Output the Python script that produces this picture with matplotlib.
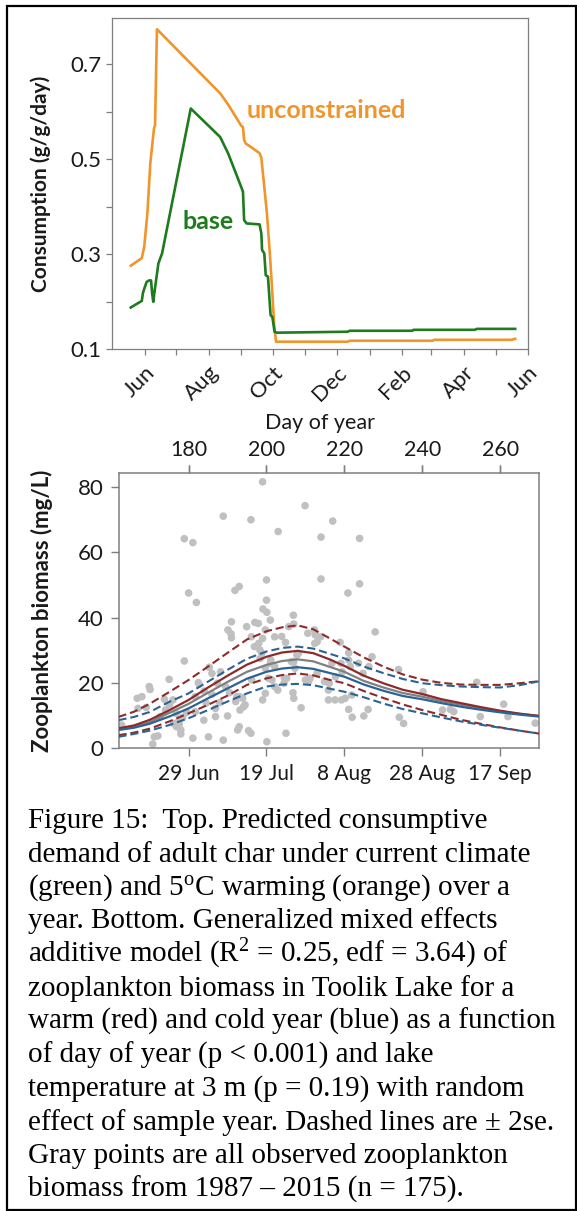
import matplotlib
matplotlib.use('Agg')
import matplotlib.pyplot as plt
from matplotlib.ticker import FixedLocator, NullFormatter, FixedFormatter
from matplotlib.patches import Rectangle

W, H, DPI = 577, 1211, 100

# ---------------- Top panel data (day counted from 1 Jan of first year) ----------------
x_major = [152, 213, 274, 335, 397, 456, 517]
x_major_labels = ['Jun', 'Aug', 'Oct', 'Dec', 'Feb', 'Apr', 'Jun']
x_minor = [182, 244, 305, 366, 425, 486]
y_major = [0.1, 0.3, 0.5, 0.7]
y_minor = [0.2, 0.4, 0.6]

unc_day = [138.7, 149.2, 151.5, 154.5, 157.3, 160.8, 161.8, 162.9, 163.6, 223.8, 231.5,
           238.5, 243.8, 245.5, 246.6, 248.3, 252.5, 261.3, 263.0, 264.8, 268.3, 271.1,
           273.5, 275.3, 277.0, 345.3, 347.0, 425.9, 427.7, 501.2, 504.7]
unc_val = [0.276, 0.292, 0.316, 0.386, 0.492, 0.565, 0.572, 0.695, 0.774, 0.639, 0.615,
           0.590, 0.571, 0.568, 0.541, 0.533, 0.527, 0.513, 0.503, 0.464, 0.387, 0.302,
           0.218, 0.148, 0.116, 0.116, 0.118, 0.118, 0.120, 0.120, 0.122]

base_day = [138.7, 149.2, 150.2, 151.6, 153.8, 156.2, 158.0, 159.0, 160.1, 161.5, 165.0,
            168.5, 195.8, 223.8, 231.5, 243.8, 245.5, 246.6, 249.0, 261.3, 263.0, 263.7,
            265.8, 267.2, 269.3, 271.8, 273.5, 275.6, 277.7, 345.3, 347.0, 406.6, 408.0,
            466.2, 468.0, 504.7]
base_val = [0.188, 0.202, 0.218, 0.228, 0.242, 0.245, 0.245, 0.218, 0.200, 0.225, 0.281,
            0.302, 0.607, 0.547, 0.512, 0.442, 0.432, 0.372, 0.365, 0.363, 0.344, 0.309,
            0.302, 0.256, 0.253, 0.172, 0.168, 0.137, 0.135, 0.137, 0.139, 0.139, 0.141,
            0.141, 0.143, 0.143]

# ---------------- Bottom panel data ----------------
doy_ticks = [180, 200, 220, 240, 260]
date_labels = ['29 Jun', '19 Jul', '8 Aug', '28 Aug', '17 Sep']
b_yticks = [0, 20, 40, 60, 80]

fit_day = [162, 166, 170, 175, 180, 185, 190, 195, 200, 204, 208, 212, 216, 220, 225,
           230, 235, 240, 245, 250, 255, 260, 265, 270]
warm_fit = [6.1, 7.0, 8.7, 11.6, 14.8, 18.6, 22.2, 25.6, 28.0, 29.3, 29.8, 29.1, 27.3, 25.2,
            22.2, 19.9, 17.9, 16.6, 15.0, 13.8, 12.6, 11.5, 10.6, 9.9]
mean_fit = [5.8, 6.6, 8.0, 10.8, 13.6, 17.0, 20.3, 23.4, 25.5, 26.7, 27.2, 26.6, 25.0, 23.4,
            20.6, 18.6, 16.9, 15.8, 14.4, 13.3, 12.3, 11.3, 10.5, 9.9]
cold_fit = [5.6, 6.3, 7.5, 9.7, 12.2, 15.3, 18.3, 21.3, 23.4, 24.4, 24.8, 24.3, 23.1, 21.9,
            19.5, 17.6, 16.0, 15.0, 13.8, 12.7, 11.8, 11.0, 10.3, 9.7]
warm_hi = [9.6, 11.2, 13.6, 17.2, 20.9, 25.0, 29.2, 33.3, 35.8, 37.0, 37.6, 36.4, 33.8, 31.1,
           27.8, 25.0, 22.6, 21.0, 20.0, 19.5, 19.4, 19.4, 19.9, 20.5]
warm_lo = [4.0, 4.8, 6.0, 8.2, 10.7, 13.3, 16.1, 19.4, 21.4, 22.4, 22.9, 22.3, 21.0, 19.9,
           17.5, 15.4, 13.4, 11.7, 10.2, 8.7, 7.5, 6.4, 5.4, 4.5]
cold_hi = [8.6, 9.6, 11.1, 14.2, 16.8, 20.4, 24.0, 27.4, 29.6, 30.7, 31.1, 30.5, 29.0, 27.5,
           25.0, 23.0, 21.2, 19.9, 19.3, 18.9, 18.7, 18.6, 19.3, 20.5]
cold_lo = [3.5, 4.4, 5.4, 7.1, 9.2, 11.7, 14.3, 16.8, 18.9, 19.5, 19.7, 19.3, 18.3, 17.3,
           15.6, 13.7, 12.0, 10.7, 9.4, 8.2, 7.2, 6.3, 5.4, 4.5]

obs_day = [199.0, 188.9, 196.0, 203.0, 209.9, 217.0, 214.0, 223.9, 178.9, 181.1, 180.0, 182.0,
           191.9, 193.0, 200.0, 214.0, 223.9, 220.9, 200.0, 199.1, 200.1, 201.0, 206.9, 227.9,
           191.0, 190.1, 190.9, 191.0, 194.9, 197.0, 197.9, 196.1, 198.0, 199.7, 199.0, 203.9,
           204.9, 202.1, 205.7, 207.0, 210.6, 212.3, 212.5, 213.0, 212.4, 213.9, 218.9, 221.1,
           198.3, 198.8, 196.9, 178.9, 201.1, 202.1, 206.4, 207.3, 208.2, 207.8, 207.0, 201.0,
           198.4, 199.7, 221.1, 216.8, 219.1, 223.6, 227.1, 221.5, 226.3, 233.9,
           175.0, 182.5, 182.7, 185.3, 186.0, 188.2, 187.4, 189.5, 201.4, 205.2, 210.0, 210.8,
           211.2, 213.0, 214.9, 217.7, 219.4, 224.8, 200.5, 204.6, 216.1, 204.5, 254.0, 196.2,
           166.8, 168.0, 169.9, 170.1, 169.1, 167.0, 173.8, 176.0, 175.1, 174.1, 176.8, 172.7,
           181.7, 181.7, 184.5, 186.9, 186.9, 190.0, 183.9, 192.1, 192.4, 193.1, 193.9, 193.2,
           194.1, 194.5, 199.0, 199.7, 202.9, 202.1, 206.8, 207.0, 208.9, 215.9, 217.6, 215.9,
           219.3, 220.2, 221.9, 221.1, 222.0, 225.0, 226.1, 234.1, 235.2, 240.2, 247.2, 245.2,
           248.1, 254.9, 260.9, 262.0, 269.0, 186.0, 188.0, 190.5, 184.0, 179.5, 178.5,
           162.8, 170.8, 171.2, 172.1, 176.1, 176.9, 178.0, 178.0, 177.6, 177.4, 181.1, 185.1,
           188.9, 192.6, 193.0, 195.4, 196.0, 200.1, 205.0]
obs_val = [81.5, 71.0, 69.9, 66.3, 74.2, 69.5, 64.6, 64.2, 64.1, 62.9, 47.5, 44.6,
           48.3, 49.5, 51.5, 51.8, 50.3, 47.5, 45.3, 42.6, 41.6, 39.2, 40.7, 35.6,
           38.7, 36.2, 35.0, 33.8, 37.2, 38.5, 38.2, 34.1, 32.1, 36.2, 33.6, 34.2,
           32.4, 34.1, 37.2, 38.0, 35.2, 36.2, 34.7, 32.6, 32.1, 34.1, 32.4, 29.2,
           30.1, 29.1, 31.1, 26.7, 27.0, 25.0, 26.5, 24.5, 29.0, 28.5, 26.5, 26.0,
           27.5, 24.5, 27.0, 26.0, 26.0, 26.0, 28.0, 25.0, 25.0, 24.1,
           21.1, 20.1, 19.6, 24.8, 22.9, 23.4, 19.9, 18.9, 20.9, 21.4, 20.9, 20.4,
           21.4, 22.9, 20.4, 21.9, 23.4, 22.9, 21.4, 21.4, 19.9, 19.9, 20.2, 20.9,
           15.3, 15.8, 18.9, 18.0, 12.5, 12.2, 15.0, 14.8, 13.3, 11.7, 10.7, 9.7,
           15.8, 11.2, 13.8, 12.2, 9.7, 9.9, 8.6, 14.3, 15.8, 15.8, 15.3, 11.7,
           12.7, 13.3, 14.8, 16.8, 17.8, 18.9, 17.0, 15.3, 12.4, 17.8, 14.8, 14.8,
           14.8, 15.3, 16.3, 11.9, 9.5, 9.9, 11.9, 9.5, 7.6, 17.3, 11.9, 11.7,
           11.2, 9.7, 13.5, 9.7, 7.7, 16.5, 14.0, 17.0, 17.5, 11.0, 9.5,
           7.1, 1.3, 3.5, 3.8, 7.6, 6.6, 5.6, 4.4, 7.4, 8.2, 3.1, 3.5,
           2.5, 5.6, 6.6, 5.4, 4.6, 2.0, 4.6]

caption_lines = [
    "Figure 15:  Top. Predicted consumptive",
    "demand of adult char under current climate",
    "(green) and 5$^{\\mathrm{o}}$C warming (orange) over a",
    "year. Bottom. Generalized mixed effects",
    "additive model (R$^{2}$ = 0.25, edf = 3.64) of",
    "zooplankton biomass in Toolik Lake for a",
    "warm (red) and cold year (blue) as a function",
    "of day of year (p < 0.001) and lake",
    "temperature at 3 m (p = 0.19) with random",
    "effect of sample year. Dashed lines are \u00b1 2se.",
    "Gray points are all observed zooplankton",
    "biomass from 1987 \u2013 2015 (n = 175).",
]

# ---------------- Styles ----------------
SANS = ['Lato', 'DejaVu Sans']
plt.rcParams['font.family'] = SANS
plt.rcParams['mathtext.fontset'] = 'custom'
plt.rcParams['mathtext.rm'] = 'Liberation Serif'
plt.rcParams['mathtext.it'] = 'Liberation Serif:italic'

ORANGE = '#F0952B'
GREEN = '#1E7B1E'
RED = '#8E2A2A'
BLUE = '#2A6496'
GRAYLINE = '#808080'
PTS = '#C0C0C0'
SPINE = '#7F7F7F'
TXT = '#1A1A1A'

fig = plt.figure(figsize=(W / DPI, H / DPI), dpi=DPI)

def fx(px):
    return px / W

def fy(py):
    return 1 - py / H

# ---------------- Top axes ----------------
ax1 = fig.add_axes([fx(112.2), fy(349.3), (528.1 - 112.2) / W, (349.3 - 18.3) / H])
ax1.plot(unc_day, unc_val, color=ORANGE, lw=1.9, solid_joinstyle='round')
ax1.plot(base_day, base_val, color=GREEN, lw=1.9, solid_joinstyle='round')
ax1.set_xlim(121, 517)
ax1.set_ylim(0.1, 0.797)
ax1.xaxis.set_major_locator(FixedLocator(x_major))
ax1.xaxis.set_major_formatter(FixedFormatter(x_major_labels))
ax1.xaxis.set_minor_locator(FixedLocator(x_minor))
ax1.xaxis.set_minor_formatter(NullFormatter())
ax1.yaxis.set_major_locator(FixedLocator(y_major))
ax1.yaxis.set_major_formatter(FixedFormatter([f'{v:.1f}' for v in y_major]))
ax1.yaxis.set_minor_locator(FixedLocator(y_minor))
ax1.yaxis.set_minor_formatter(NullFormatter())
for s in ax1.spines.values():
    s.set_color(SPINE)
    s.set_linewidth(0.9)
ax1.tick_params(which='both', direction='out', length=4.5, width=0.9, color=SPINE,
                labelsize=16, labelcolor=TXT)
ax1.tick_params(axis='x', pad=5)
for lab in ax1.get_xticklabels():
    lab.set_rotation(45)
    lab.set_ha('right')
    lab.set_rotation_mode('anchor')
ax1.set_ylabel('Consumption (g/g/day)', fontsize=15, fontweight='bold', color=TXT)
ax1.yaxis.set_label_coords(-0.146, 0.5)
ax1.text(0.5, -0.2227, 'Day of year', transform=ax1.transAxes, ha='center', va='center',
         fontsize=15.5, color=TXT)
ax1.text(249.3, 0.602, 'unconstrained', color=ORANGE, fontsize=18, fontweight='bold',
         ha='left', va='center')
ax1.text(187.5, 0.369, 'base', color=GREEN, fontsize=18, fontweight='bold',
         ha='left', va='center')

# ---------------- Bottom axes ----------------
ax2 = fig.add_axes([fx(118.9), fy(748.3), (538.7 - 118.9) / W, (748.3 - 473.0) / H])
ax2.scatter(obs_day, obs_val, s=30, color=PTS, edgecolors='none', zorder=1)
dash = (0, (3.9, 1.9))
ax2.plot(fit_day, warm_hi, color=RED, lw=1.5, ls=dash, zorder=3)
ax2.plot(fit_day, warm_lo, color=RED, lw=1.5, ls=dash, zorder=3)
ax2.plot(fit_day, cold_hi, color=BLUE, lw=1.5, ls=dash, zorder=3)
ax2.plot(fit_day, cold_lo, color=BLUE, lw=1.5, ls=dash, zorder=3)
ax2.plot(fit_day, mean_fit, color=GRAYLINE, lw=1.6, zorder=3)
ax2.plot(fit_day, warm_fit, color=RED, lw=1.6, zorder=3)
ax2.plot(fit_day, cold_fit, color=BLUE, lw=1.6, zorder=3)
ax2.set_xlim(162.1, 269.9)
ax2.set_ylim(0, 84.2)
ax2.set_xticks(doy_ticks)
ax2.set_xticklabels(date_labels)
ax2.set_yticks(b_yticks)
ax2.tick_params(direction='out', length=6, width=1.0, color=SPINE, labelsize=15,
                labelcolor=TXT, top=True, labeltop=False, pad=5)
ax2.tick_params(axis='y', labelsize=16)
for s in ax2.spines.values():
    s.set_color(SPINE)
    s.set_linewidth(1.1)
ax2t = ax2.secondary_xaxis('top')
ax2t.set_xticks(doy_ticks)
ax2t.set_xticklabels([str(v) for v in doy_ticks])
ax2t.tick_params(direction='out', length=6, width=1.0, color=SPINE, labelsize=15.5,
                 labelcolor=TXT, pad=3)
ax2t.spines['top'].set_visible(False)
ax2.set_ylabel('Zooplankton biomass (mg/L)', fontsize=16, fontweight='bold', color=TXT)
ax2.yaxis.set_label_coords(-0.157, 0.5)

# ---------------- Caption ----------------
for i, line in enumerate(caption_lines):
    fig.text(fx(27.6), fy(828 + i * 33.5), line, family=['Liberation Serif', 'DejaVu Serif'],
             fontsize=21, color='black', ha='left', va='baseline')

# ---------------- Frame ----------------
fig.add_artist(Rectangle((fx(6.5), fy(1209.5)), fx(575.5) - fx(6.5), fy(5.5) - fy(1209.5),
                         transform=fig.transFigure, fill=False, edgecolor='black', lw=1.6))

fig.savefig('out.png', dpi=DPI)
